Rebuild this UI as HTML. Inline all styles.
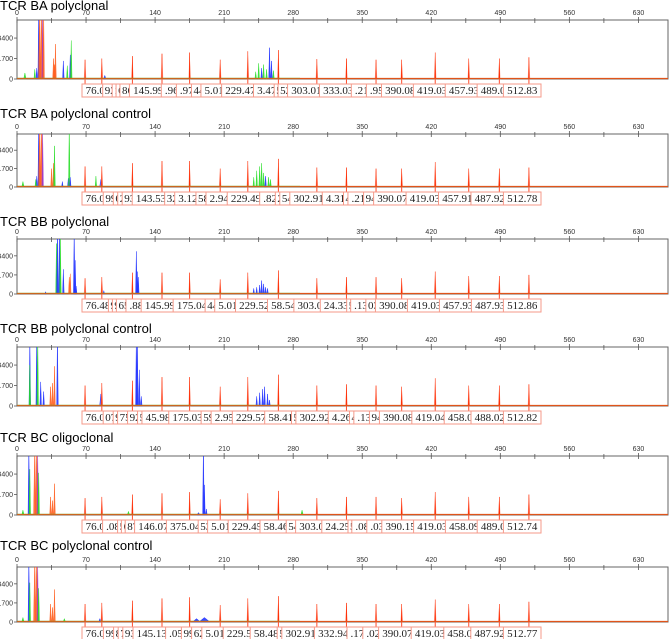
<!DOCTYPE html>
<html><head><meta charset="utf-8">
<style>
html,body{margin:0;padding:0;background:#fff;}
svg{display:block;}
.ttl{font-family:"Liberation Sans",sans-serif;font-size:13px;fill:#000;}
.tk{font-family:"Liberation Sans",sans-serif;font-size:7px;fill:#333;}
.lb{font-family:"Liberation Serif",serif;font-size:11px;fill:#222;}
</style></head>
<body>
<svg id="chart" width="669" height="639" viewBox="0 0 669 639" xmlns="http://www.w3.org/2000/svg"></svg>
<script>
// ---- data ----
const panelTitles = ["TCR BA polyclonal","TCR BA polyclonal control","TCR BB polyclonal","TCR BB polyclonal control","TCR BC oligoclonal","TCR BC polyclonal control"];
const xTicks = [0,70,140,210,280,350,420,490,560,630];
const yTicks = [0,1700,3400];
const ladderPos = [69,86,117,147,175,206,234,265,304,334,364,390,424,458,489,519];
const ladderH = [
 [1600,1700,1900,2100,2200,1600,2300,2400,1650,1700,1600,1600,2200,1700,1700,1800],
 [1900,1900,2200,2400,2400,1700,2400,2600,1800,1800,1700,1700,2300,1700,1700,1800],
 [1400,1500,1900,1900,1900,1300,1900,2100,1400,1500,1500,1400,2000,1600,1600,1700],
 [1700,1900,2100,2400,2400,1600,2400,2600,1700,1800,1700,1600,2300,1700,1700,1800],
 [1400,1500,1700,1800,1900,1300,1800,2000,1400,1500,1500,1400,1900,1500,1500,1700],
 [1600,1700,1900,2100,2200,1500,2100,2300,1600,1700,1600,1600,2000,1600,1600,1800]
];
const samplePeaks = [
 [[20,900,2,"b"],[22,6000,2,"b"],[23,6000,3,"o"],[25,6000,3,"o"],[26,5000,2,"p"],[27,6000,2,"o"],[18,800,2,"g"],[8,500,3,"g"],[37,1700,2,"o"],[39,2900,2,"o"],[38,1200,3,"o"],[47,1500,2,"b"],[54,2000,2,"b"],[55,3200,2,"g"],[51,1100,2,"g"],[89,300,3,"b"],[242,600,2,"g"],[245,1300,2,"g"],[248,900,2,"b"],[250,1200,2,"g"],[253,800,2,"g"],[256,2600,2,"b"],[258,1500,2,"b"],[260,700,2,"g"]],
 [[20,1000,2,"b"],[22,6000,2,"b"],[23,6000,3,"o"],[25,6000,3,"o"],[26,5000,2,"p"],[19,700,2,"g"],[6,500,3,"g"],[35,1700,2,"o"],[37,2200,2,"o"],[38,3800,2,"g"],[46,500,2,"b"],[52,800,2,"b"],[53,6000,2,"g"],[54,900,2,"b"],[80,1000,2,"g"],[85,700,3,"b"],[240,900,2,"g"],[243,1500,2,"g"],[246,1900,2,"g"],[248,2200,2,"g"],[250,1300,2,"g"],[252,1000,2,"b"],[255,900,2,"g"],[257,700,2,"g"]],
 [[40,4500,2,"g"],[41,6000,2,"b"],[43,6000,2,"b"],[44,5000,2,"g"],[47,2200,2,"b"],[53,1500,2,"o"],[54,1800,2,"o"],[58,6000,2,"b"],[59,3000,2,"b"],[60,700,2,"b"],[29,200,2,"b"],[88,300,2,"b"],[121,3800,2,"b"],[122,2000,2,"b"],[123,1500,2,"b"],[240,500,2,"b"],[243,600,2,"b"],[246,800,2,"b"],[248,1200,2,"b"],[250,900,2,"b"],[252,600,2,"b"],[254,500,2,"b"]],
 [[13,6000,2,"b"],[13,3400,2,"g"],[20,6000,2,"b"],[21,6000,2,"g"],[24,2000,2,"b"],[27,1200,2,"b"],[34,1600,2,"o"],[36,1900,2,"o"],[38,3300,2,"o"],[41,6000,2,"b"],[85,1000,3,"b"],[121,6000,2,"b"],[122,6000,2,"b"],[124,3000,2,"b"],[126,800,2,"b"],[243,800,2,"b"],[246,1100,2,"b"],[249,1400,2,"b"],[251,1600,2,"b"],[254,1000,2,"b"],[256,500,2,"b"]],
 [[12,6000,2,"b"],[13,3800,2,"g"],[18,6000,3,"o"],[20,6000,3,"o"],[21,5000,2,"p"],[22,3500,2,"g"],[6,400,3,"g"],[34,1500,2,"o"],[36,1200,2,"o"],[38,2600,2,"o"],[184,200,4,"b"],[189,6000,2,"b"],[190,2500,2,"b"],[192,500,2,"b"],[113,300,3,"g"],[289,400,3,"g"]],
 [[12,6000,2,"b"],[13,3500,2,"g"],[18,6000,3,"o"],[20,6000,3,"o"],[21,5000,2,"p"],[22,3000,2,"g"],[6,400,3,"g"],[34,1600,2,"o"],[36,1300,2,"o"],[38,2900,2,"o"],[182,300,10,"b"],[190,400,14,"b"],[84,300,3,"b"],[48,300,3,"g"]]
];
const peakLabels = [
 ["76.0","92","1","6","86","145.99",".96",".97","44","5.01","229.47","3.47","5","52","303.01","333.03",".21",".95","390.08","419.03","457.93","489.0","512.83"],
 ["76.0","99","6","2","93","143.53","32","3.12","58","2.94","229.49",".82","2","54","302.91","4.31","4",".21","94","390.07","419.03","457.91","487.92","512.78"],
 ["76.48","9","9","65",".88","145.99","175.04","44","5.01","229.52","58.54","303.0","24.33","5",".13","03","390.08","419.03","457.93","487.93","512.86"],
 ["76.0","07","9","75","92","5","45.98","175.03","59","2.95","229.57","58.41","5","302.92","4.26","4",".13","94","390.08","419.04","458.0","488.02","512.82"],
 ["76.0",".08","5","6","87","146.07","375.04","53","5.01","229.45","58.46","54","303.0","24.25","5",".08",".03","390.15","419.03","458.09","489.0","512.74"],
 ["76.0","99","8","7","93","145.13",".05","99","62","5.01","229.5","58.48","5","302.91","332.94",".17",".02","390.07","419.03","458.0","487.92","512.77"]
];
// ---- layout ----
const geo = [[5,20,79],[113,134,187],[221,239,294],[328,347,406],[437,456,515],[545,567,622]];
const X0=17, X1=668, XMAX=660, YMAX=4900;
const colors={b:"#1a2cff",g:"#22dd22",o:"#ff5a1a",p:"#9933cc",r:"#ff2a00"};
const NS="http://www.w3.org/2000/svg";
const svg=document.getElementById('chart');
function el(t,a,p){const e=document.createElementNS(NS,t);for(const k in a)e.setAttribute(k,a[k]);(p||svg).appendChild(e);return e;}
function xs(u){return X0+u*(X1-X0)/XMAX;}

panelTitles.forEach((title,i)=>{
  const [ty,top,base]=geo[i];
  const ys=v=>base-Math.min(v,YMAX*1.2)/YMAX*(base-top);
  const g=el('g',{});
  
  
  const t=el('text',{x:0,y:ty+5,class:'ttl'},g); t.textContent=title;
  
  
  const cid='clip'+i;
  const cp=el('clipPath',{id:cid},g); el('rect',{x:X0,y:top,width:X1-X0,height:base-top+1},cp);
  const fr=el('rect',{x:X0,y:top,width:X1-X0,height:base-top,fill:'none',stroke:'#666','stroke-width':1},g);
  
  
  for(let u=0;u<=XMAX;u+=35){
    const x=xs(u), major=(u%70===0);
    el('line',{x1:x,x2:x,y1:top-(major?3:2),y2:top+3,stroke:'#555','stroke-width':0.8},g);
  }
  xTicks.forEach(v=>{const tx=el('text',{x:xs(v),y:top-5,class:'tk','text-anchor':'middle'},g);tx.textContent=v;
    
    });
  yTicks.forEach(v=>{const y=ys(v);el('line',{x1:X0-3,x2:X0,y1:y,y2:y,stroke:'#555','stroke-width':0.8},g);
    const tx=el('text',{x:X0-4,y:y+2.5,class:'tk','text-anchor':'end'},g);tx.textContent=v;
    
    });
  const pg=el('g',{'clip-path':'url(#'+cid+')'},g);
  
  
  function peak(u,h,w,c,op){
    const x=xs(u),hw=w*(X1-X0)/XMAX/2;
    return el('path',{d:`M${x-hw},${base} L${x},${ys(h)} L${x+hw},${base} Z`,fill:c,'fill-opacity':op,stroke:c,'stroke-width':0.5,'stroke-opacity':op},pg);
  }
  samplePeaks[i].forEach(pk=>{
    const p=peak(pk[0],pk[1],pk[2]*0.8,colors[pk[3]],0.85);
    
    
  });
  ladderPos.forEach((u,k)=>{
    peak(u,ladderH[i][k]*0.85,2.2,'#ffb0a0',0.7);
    const p=peak(u,ladderH[i][k],0.9,colors.r,1);
    
    
  });
  el('line',{x1:X0,x2:X1,y1:base-0.5,y2:base-0.5,stroke:'#e0541a','stroke-width':1.2},pg);
  el('line',{x1:X0,x2:300,y1:base-1,y2:base-1,stroke:'#55cc33','stroke-width':0.6,'stroke-opacity':0.6},pg);
  ladderPos.forEach(u=>{el('line',{x1:xs(u),x2:xs(u),y1:base,y2:base+6,stroke:'#ff4a2a','stroke-width':1},g);});
  const lg=el('g',{},g);
  
  
  const labs=peakLabels[i];
  const tot=labs.reduce((s,l)=>s+l.length*5.6+4,0);
  const gapTotal=541-82-tot;
  const gaps=labs.length-1;
  let x=82;
  labs.forEach((l,k)=>{
    const w=l.length*5.6+4;
    el('rect',{x:x,y:base+5,width:w,height:13,fill:'#fff',stroke:'#f59a8a','stroke-width':1},lg);
    const tx=el('text',{x:x+w/2,y:base+15,class:'lb','text-anchor':'middle'},lg);tx.textContent=l;
    
    
    x+=w+gapTotal/gaps;
  });
});
</script>
</body></html>
